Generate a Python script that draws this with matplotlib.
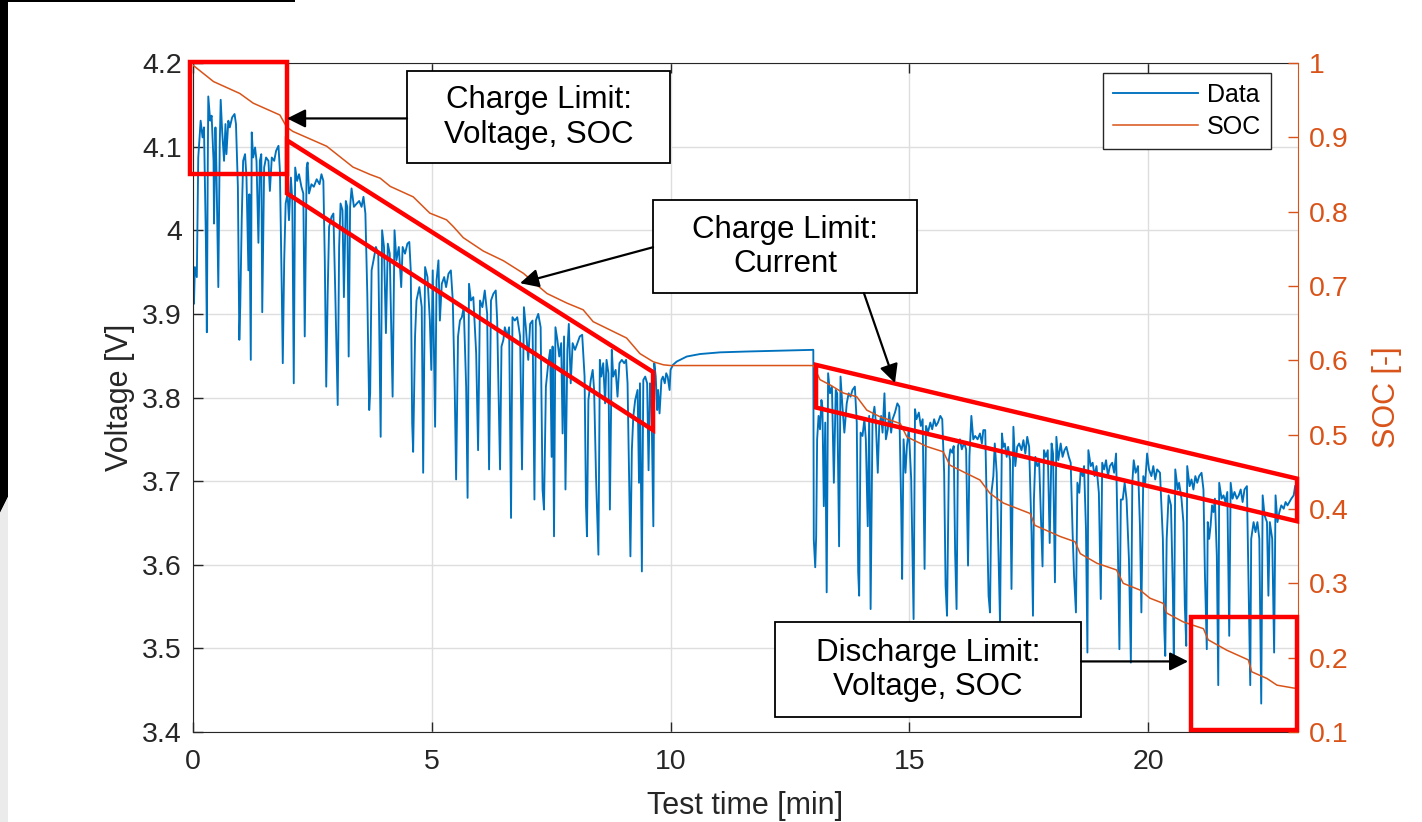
import numpy as np
import matplotlib
matplotlib.use('Agg')
import matplotlib.pyplot as plt
from matplotlib.patches import Rectangle, Polygon

plt.rcParams['font.family'] = ['Liberation Sans', 'DejaVu Sans']

# Cell voltage during the pulse test [min], [V]
t_volt = [0.00, 0.02, 0.04, 0.08, 0.11, 0.16, 0.20, 0.23, 0.27, 0.29, 0.31, 0.32, 0.36, 0.39, 0.43, 0.44,
          0.47, 0.49, 0.53, 0.56, 0.58, 0.61, 0.65, 0.68, 0.70, 0.74, 0.77, 0.82, 0.87, 0.90, 0.94, 0.97,
          0.99, 1.02, 1.05, 1.09, 1.12, 1.16, 1.18, 1.21, 1.23, 1.26, 1.30, 1.33, 1.37, 1.40, 1.43, 1.45,
          1.49, 1.53, 1.58, 1.61, 1.65, 1.70, 1.74, 1.79, 1.82, 1.86, 1.88, 1.91, 1.94, 1.98, 2.01, 2.05,
          2.08, 2.11, 2.14, 2.18, 2.22, 2.27, 2.31, 2.34, 2.38, 2.40, 2.43, 2.48, 2.53, 2.59, 2.65, 2.69,
          2.73, 2.76, 2.79, 2.82, 2.85, 2.90, 2.94, 2.98, 3.03, 3.06, 3.09, 3.13, 3.16, 3.20, 3.23, 3.26,
          3.29, 3.32, 3.37, 3.43, 3.48, 3.53, 3.57, 3.61, 3.65, 3.69,
          3.71, 3.74, 3.78, 3.83, 3.88, 3.93, 3.96, 4.00, 4.04, 4.08, 4.12, 4.18, 4.22, 4.26, 4.31, 4.36,
          4.39, 4.44, 4.49, 4.53, 4.56, 4.59, 4.61, 4.65, 4.68, 4.74, 4.79, 4.82, 4.86, 4.91, 4.96, 4.99,
          5.02, 5.07, 5.10, 5.14, 5.17, 5.21, 5.26, 5.30, 5.35, 5.40, 5.44, 5.48, 5.51, 5.55, 5.59, 5.63,
          5.67, 5.72, 5.75, 5.78, 5.82, 5.87, 5.93, 5.97, 6.01, 6.06, 6.11, 6.16, 6.20, 6.24, 6.29, 6.34,
          6.37, 6.43, 6.46, 6.50, 6.53, 6.58, 6.62, 6.66, 6.69, 6.74, 6.79, 6.85, 6.89, 6.93, 6.97, 7.02,
          7.06, 7.11, 7.15, 7.18, 7.23, 7.28, 7.32, 7.35, 7.39, 7.44,
          7.48, 7.51, 7.53, 7.56, 7.59, 7.63, 7.67, 7.71, 7.74, 7.77, 7.80, 7.84, 7.87, 7.91, 7.95, 8.00,
          8.05, 8.10, 8.15, 8.20, 8.23, 8.25, 8.28, 8.33, 8.37, 8.40, 8.44, 8.49, 8.52, 8.55, 8.59, 8.63,
          8.66, 8.70, 8.73, 8.77, 8.80, 8.85, 8.89, 8.93, 8.98, 9.03, 9.07, 9.10, 9.14, 9.16, 9.19, 9.22,
          9.26, 9.31, 9.34, 9.36, 9.40, 9.43, 9.47, 9.51, 9.54, 9.57, 9.60, 9.64, 9.66, 9.69, 9.72, 9.74,
          9.77, 9.81, 9.84, 9.88, 9.91, 9.94, 9.98, 10.00, 10.05, 10.13, 10.34, 10.62, 11.04, 11.60, 12.29, 12.97,
          12.99, 13.00, 13.03, 13.05, 13.07, 13.10, 13.13, 13.16, 13.18, 13.21, 13.24, 13.27, 13.30, 13.34, 13.38, 13.42,
          13.46, 13.49, 13.53, 13.56, 13.60, 13.64, 13.69, 13.73, 13.77, 13.81, 13.86, 13.90, 13.93, 13.95, 13.98, 14.02,
          14.06, 14.09, 14.13, 14.16, 14.19, 14.23, 14.27, 14.30, 14.34, 14.37, 14.41, 14.44, 14.48, 14.51, 14.55, 14.58,
          14.62, 14.65, 14.70, 14.75, 14.79, 14.83, 14.85, 14.88, 14.92, 14.95, 14.99, 15.04, 15.09, 15.12, 15.15, 15.20,
          15.24, 15.28, 15.32, 15.35, 15.39, 15.44, 15.48, 15.52, 15.56, 15.60, 15.65, 15.69, 15.73, 15.76, 15.79, 15.83,
          15.86, 15.90, 15.93, 15.96, 15.99, 16.02, 16.06, 16.10, 16.15, 16.19, 16.23, 16.26, 16.30, 16.34, 16.38, 16.43,
          16.48, 16.52, 16.55, 16.59, 16.62, 16.66, 16.69, 16.72, 16.76, 16.79, 16.83, 16.87, 16.90, 16.94, 16.97, 17.00,
          17.04, 17.07, 17.11, 17.14, 17.18, 17.22, 17.26, 17.30, 17.35, 17.39, 17.43, 17.47, 17.51, 17.56, 17.59, 17.61,
          17.64, 17.68, 17.72, 17.76, 17.79, 17.82, 17.86, 17.90, 17.94, 17.98, 18.01, 18.05, 18.08, 18.12, 18.17, 18.21,
          18.25, 18.29, 18.34, 18.38, 18.42, 18.45, 18.49, 18.52, 18.56, 18.59, 18.63, 18.66, 18.70, 18.73, 18.75, 18.80,
          18.84, 18.88, 18.92, 18.97, 19.01, 19.04, 19.08, 19.12, 19.16, 19.20, 19.25, 19.29, 19.33, 19.37, 19.40, 19.43,
          19.47, 19.51, 19.55, 19.60, 19.64, 19.67, 19.70, 19.74, 19.79, 19.83, 19.86, 19.90, 19.94, 19.98, 20.02, 20.07,
          20.11, 20.15, 20.19, 20.25, 20.31, 20.34, 20.36, 20.39, 20.43, 20.48, 20.52, 20.54, 20.57, 20.62, 20.65, 20.70,
          20.74, 20.77, 20.80, 20.82, 20.87, 20.91, 20.95, 20.99, 21.03, 21.07, 21.12, 21.16, 21.19, 21.23, 21.25, 21.28,
          21.31, 21.34, 21.37, 21.40, 21.44, 21.47, 21.49, 21.54, 21.58, 21.62, 21.66, 21.70, 21.73, 21.77, 21.81, 21.86,
          21.90, 21.94, 21.98, 22.02, 22.07, 22.10, 22.14, 22.16, 22.21, 22.25, 22.29, 22.33, 22.37, 22.40, 22.44, 22.49,
          22.52, 22.55, 22.60, 22.64, 22.67, 22.71, 22.75, 22.79, 22.84, 22.88, 22.92, 22.96, 23.00, 23.05, 23.08]
volt = [3.930, 3.912, 3.956, 3.944, 4.087, 4.131, 4.111, 4.123, 3.987, 3.878, 4.083, 4.160, 4.131, 4.137, 4.083, 4.008,
        4.123, 4.075, 3.932, 4.103, 4.156, 4.119, 4.083, 4.127, 4.091, 4.131, 4.123, 4.135, 4.139, 4.127, 4.052, 3.869,
        3.910, 4.012, 4.083, 4.091, 4.063, 3.952, 4.043, 3.845, 4.117, 4.087, 4.099, 4.083, 3.985, 4.083, 4.091, 3.902,
        4.075, 4.087, 4.083, 4.047, 4.087, 4.083, 4.095, 4.101, 4.071, 3.924, 3.841, 3.964, 4.032, 4.044, 4.012, 4.063,
        4.035, 3.817, 4.075, 4.059, 4.067, 4.052, 4.044, 3.873, 4.075, 4.081, 4.044, 4.055, 4.052, 4.061, 4.055, 4.067,
        4.059, 3.964, 3.813, 3.924, 4.004, 4.016, 4.020, 3.924, 3.791, 3.980, 4.032, 4.024, 3.920, 4.035, 4.028, 3.849,
        4.028, 4.050, 4.028, 4.032, 4.035, 4.028, 4.040, 4.020, 3.924, 3.785,
        3.805, 3.952, 3.964, 3.980, 3.972, 3.753, 4.000, 3.980, 3.877, 3.984, 3.972, 3.801, 4.000, 3.964, 3.980, 3.932,
        3.980, 3.972, 3.984, 3.986, 3.952, 3.769, 3.735, 3.873, 3.916, 3.932, 3.908, 3.710, 3.956, 3.944, 3.892, 3.833,
        3.952, 3.765, 3.940, 3.964, 3.892, 3.936, 3.944, 3.932, 3.948, 3.952, 3.916, 3.813, 3.702, 3.873, 3.892, 3.896,
        3.908, 3.813, 3.680, 3.936, 3.916, 3.920, 3.853, 3.737, 3.916, 3.908, 3.928, 3.900, 3.714, 3.916, 3.924, 3.928,
        3.892, 3.714, 3.861, 3.869, 3.884, 3.873, 3.884, 3.656, 3.896, 3.892, 3.896, 3.873, 3.714, 3.908, 3.884, 3.845,
        3.888, 3.892, 3.678, 3.892, 3.900, 3.884, 3.690, 3.666, 3.813, 3.841,
        3.857, 3.729, 3.861, 3.634, 3.884, 3.869, 3.849, 3.865, 3.757, 3.873, 3.690, 3.857, 3.888, 3.817, 3.865, 3.857,
        3.865, 3.873, 3.875, 3.825, 3.670, 3.634, 3.797, 3.821, 3.833, 3.809, 3.705, 3.612, 3.845, 3.825, 3.841, 3.793,
        3.845, 3.829, 3.666, 3.857, 3.825, 3.833, 3.801, 3.841, 3.845, 3.841, 3.845, 3.817, 3.674, 3.610, 3.737, 3.777,
        3.797, 3.809, 3.698, 3.817, 3.592, 3.821, 3.825, 3.817, 3.713, 3.817, 3.797, 3.646, 3.841, 3.825, 3.785, 3.809,
        3.781, 3.821, 3.825, 3.817, 3.829, 3.825, 3.809, 3.833, 3.839, 3.843, 3.849, 3.852, 3.854, 3.855, 3.856, 3.857,
        3.857, 3.630, 3.597, 3.634, 3.750, 3.778, 3.762, 3.797, 3.789, 3.670, 3.770, 3.567, 3.829, 3.805, 3.813, 3.698,
        3.809, 3.805, 3.622, 3.825, 3.789, 3.758, 3.793, 3.805, 3.801, 3.809, 3.813, 3.770, 3.591, 3.563, 3.758, 3.754,
        3.774, 3.750, 3.646, 3.778, 3.547, 3.774, 3.789, 3.770, 3.710, 3.766, 3.778, 3.758, 3.805, 3.750, 3.762, 3.782,
        3.758, 3.774, 3.782, 3.793, 3.789, 3.670, 3.583, 3.750, 3.710, 3.742, 3.762, 3.702, 3.535, 3.786, 3.774, 3.782,
        3.766, 3.774, 3.595, 3.766, 3.758, 3.770, 3.762, 3.774, 3.766, 3.770, 3.778, 3.774, 3.710, 3.575, 3.539, 3.726,
        3.738, 3.734, 3.742, 3.614, 3.547, 3.742, 3.750, 3.738, 3.746, 3.738, 3.599, 3.730, 3.778, 3.750, 3.754, 3.750,
        3.757, 3.745, 3.761, 3.761, 3.678, 3.563, 3.543, 3.686, 3.706, 3.745, 3.710, 3.606, 3.531, 3.757, 3.741, 3.745,
        3.729, 3.741, 3.725, 3.571, 3.765, 3.718, 3.741, 3.745, 3.737, 3.749, 3.733, 3.753, 3.741, 3.638, 3.539, 3.678,
        3.729, 3.718, 3.722, 3.650, 3.598, 3.737, 3.729, 3.737, 3.626, 3.745, 3.733, 3.579, 3.753, 3.725, 3.745, 3.729,
        3.737, 3.741, 3.729, 3.722, 3.638, 3.587, 3.543, 3.698, 3.686, 3.714, 3.706, 3.718, 3.642, 3.495, 3.737, 3.718,
        3.722, 3.706, 3.718, 3.686, 3.559, 3.722, 3.714, 3.725, 3.706, 3.718, 3.722, 3.710, 3.733, 3.614, 3.499, 3.678,
        3.678, 3.698, 3.678, 3.606, 3.483, 3.698, 3.725, 3.710, 3.718, 3.646, 3.543, 3.706, 3.698, 3.733, 3.714, 3.706,
        3.718, 3.702, 3.714, 3.710, 3.631, 3.523, 3.491, 3.631, 3.683, 3.671, 3.567, 3.479, 3.714, 3.690, 3.698, 3.679,
        3.651, 3.551, 3.503, 3.718, 3.694, 3.702, 3.690, 3.706, 3.698, 3.706, 3.710, 3.690, 3.591, 3.499, 3.651, 3.631,
        3.647, 3.671, 3.663, 3.679, 3.611, 3.456, 3.698, 3.679, 3.683, 3.675, 3.687, 3.515, 3.698, 3.679, 3.687, 3.679,
        3.683, 3.690, 3.675, 3.690, 3.694, 3.591, 3.456, 3.631, 3.651, 3.639, 3.651, 3.631, 3.434, 3.683, 3.659, 3.651,
        3.563, 3.651, 3.631, 3.495, 3.683, 3.651, 3.663, 3.671, 3.667, 3.675, 3.671, 3.675, 3.679, 3.683, 3.694]

# State of charge [-]
t_soc = [0.00, 0.43, 0.98, 1.26, 1.82, 1.96, 2.09, 2.80, 3.35, 3.71, 3.92, 4.13, 4.54, 4.61, 4.96, 5.31,
         5.45, 5.66, 6.08, 6.50, 6.92, 7.41, 7.83, 8.17, 8.38, 8.73, 9.08, 9.36, 9.64, 9.85, 10.00, 12.99,
         13.13, 13.34, 13.62, 13.90, 14.11, 14.39, 14.81, 14.95, 15.37, 15.71, 15.85, 16.13, 16.48, 16.69, 16.97, 17.53,
         17.63, 17.95, 18.16, 18.47, 18.58, 18.93, 19.34, 19.48, 19.83, 20.04, 20.32, 20.39, 20.74, 21.16, 21.26, 21.65,
         22.10, 22.17, 22.49, 22.70, 23.06, 23.14]
soc = [0.997, 0.975, 0.959, 0.946, 0.930, 0.914, 0.908, 0.888, 0.860, 0.850, 0.845, 0.834, 0.822, 0.820, 0.798, 0.789,
       0.780, 0.765, 0.747, 0.734, 0.717, 0.690, 0.677, 0.668, 0.652, 0.641, 0.630, 0.609, 0.598, 0.594, 0.593, 0.593,
       0.574, 0.567, 0.556, 0.551, 0.533, 0.524, 0.515, 0.497, 0.484, 0.477, 0.459, 0.450, 0.439, 0.421, 0.408, 0.394,
       0.378, 0.369, 0.363, 0.356, 0.340, 0.327, 0.318, 0.300, 0.291, 0.280, 0.273, 0.260, 0.248, 0.239, 0.224, 0.210,
       0.197, 0.181, 0.172, 0.163, 0.159, 0.159]

x_ticks = [0, 5, 10, 15, 20]
v_ticks = [3.4, 3.5, 3.6, 3.7, 3.8, 3.9, 4.0, 4.1, 4.2]
v_ticklabels = ['3.4', '3.5', '3.6', '3.7', '3.8', '3.9', '4', '4.1', '4.2']
soc_ticks = [0.1, 0.2, 0.3, 0.4, 0.5, 0.6, 0.7, 0.8, 0.9, 1.0]
soc_ticklabels = ['0.1', '0.2', '0.3', '0.4', '0.5', '0.6', '0.7', '0.8', '0.9', '1']

blue = '#0072BD'
orange = '#D95319'
dark = '#262626'

fig = plt.figure(figsize=(14.22, 8.22), dpi=100)
W, H = 1422, 822
ax = fig.add_axes([193 / W, 1 - 732 / H, (1298 - 193) / W, (732 - 63) / H])
ax2 = ax.twinx()

l1, = ax.plot(t_volt, volt, color=blue, lw=1.35, label='Data')
l2, = ax2.plot(t_soc, soc, color=orange, lw=1.1, label='SOC')

ax.set_xlim(0, 23.14)
ax.set_ylim(3.4, 4.2)
ax2.set_ylim(0.1, 1.0)
ax.set_xticks(x_ticks)
ax.set_yticks(v_ticks)
ax.set_yticklabels(v_ticklabels)
ax2.set_yticks(soc_ticks)
ax2.set_yticklabels(soc_ticklabels)

ax.grid(True, color='#dedede', lw=1.0)
ax.tick_params(direction='in', length=7, width=1.0, labelsize=20.5, colors=dark,
               top=True, right=False, pad=8)
ax.tick_params(axis='x', pad=12)
ax2.tick_params(direction='in', length=7, width=1.0, labelsize=20.5, colors=orange, pad=8)
for s in ['left', 'top', 'bottom']:
    ax.spines[s].set_color(dark)
    ax2.spines[s].set_visible(False)
ax.spines['right'].set_visible(False)
ax2.spines['right'].set_color(orange)

ax.set_xlabel('Test time [min]', fontsize=22, color=dark, labelpad=12)
ax.set_ylabel('Voltage [V]', fontsize=22, color=dark, labelpad=5)
ax2.set_ylabel('SOC [-]', fontsize=22, color=orange, labelpad=17)

leg = ax2.legend([l1, l2], ['Data', 'SOC'], loc='upper right', bbox_to_anchor=(0.9756, 0.985),
                 borderaxespad=0, fontsize=18, fancybox=False, edgecolor=dark,
                 handlelength=3.4, handletextpad=0.35, labelspacing=0.3, borderpad=0.4,
                 framealpha=1)
leg.get_frame().set_linewidth(1.0)
leg.set_zorder(6)

# annotations, in voltage-axis coordinates, drawn on top of both axes
T = ax.transData
red_kw = dict(fill=False, ec='red', lw=3.2, transform=T, clip_on=False, zorder=5, joinstyle='miter')
ax2.add_patch(Rectangle((-0.063, 4.067), 2.032, 0.1336, **red_kw))
ax2.add_patch(Polygon([(1.969, 4.1075), (9.634, 3.8305), (9.634, 3.761), (1.969, 4.044)], closed=True, **red_kw))
ax2.add_patch(Polygon([(13.047, 3.839), (23.12, 3.703), (23.12, 3.652), (13.047, 3.788)], closed=True, **red_kw))
ax2.add_patch(Rectangle((20.90, 3.402), 2.22, 0.135, **red_kw))

box_kw = dict(fc='white', ec='black', lw=1.3, transform=T, clip_on=False, zorder=7)
text_kw = dict(transform=T, ha='center', va='center', fontsize=22.5, color='black', zorder=8,
               linespacing=1.2)
ax2.add_patch(Rectangle((4.482, 4.080), 5.508, 0.110, **box_kw))
ax2.text(7.236, 4.135, 'Charge Limit:\nVoltage, SOC', **text_kw)
ax2.add_patch(Rectangle((9.634, 3.925), 5.53, 0.111, **box_kw))
ax2.text(12.40, 3.980, 'Charge Limit:\nCurrent', **text_kw)
ax2.add_patch(Rectangle((12.19, 3.4174), 6.41, 0.1136, **box_kw))
ax2.text(15.39, 3.474, 'Discharge Limit:\nVoltage, SOC', **text_kw)

arrow_kw = dict(arrowstyle='-|>', color='black', lw=1.6, mutation_scale=28, shrinkA=0, shrinkB=0)
arrows = [((4.482, 4.1337), (1.969, 4.1337)),
          ((9.634, 3.9797), (6.848, 3.9367)),
          ((14.05, 3.9248), (14.70, 3.8173)),
          ((18.60, 3.4844), (20.84, 3.4844))]
for start, tip in arrows:
    ax2.annotate('', xy=tip, xytext=start, xycoords=T, textcoords=T,
                 arrowprops=arrow_kw, annotation_clip=False, zorder=8)

# dark frame left/top of the canvas
def px(x, y):
    return (x / W, 1 - y / H)

fig.patches.append(Polygon([px(0, 0), px(8, 0), px(8, 497), px(0, 513)], closed=True,
                           fc='black', ec='none', transform=fig.transFigure))
fig.patches.append(Polygon([px(0, 513), px(8, 497), px(8, 822), px(0, 822)], closed=True,
                           fc='#ebebeb', ec='none', transform=fig.transFigure))
fig.patches.append(Polygon([px(0, 0), px(295, 0), px(295, 2.5), px(0, 2.5)], closed=True,
                           fc='black', ec='none', transform=fig.transFigure))

fig.savefig('out.png', dpi=100)
